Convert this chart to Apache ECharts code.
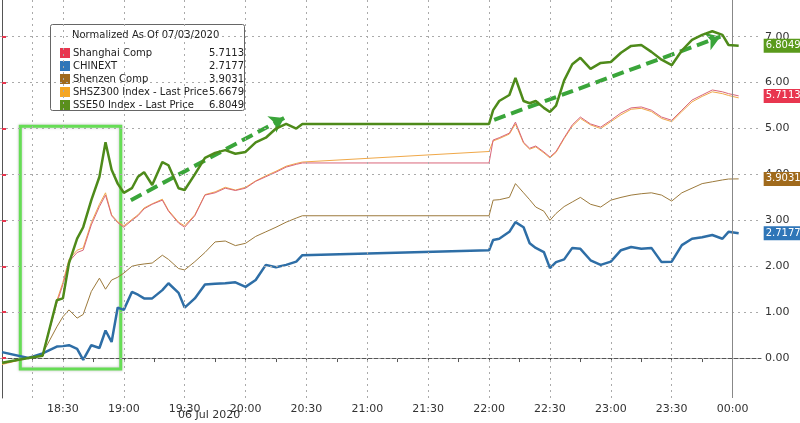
<!DOCTYPE html>
<html>
<head>
<meta charset="utf-8">
<script src="https://cdn.jsdelivr.net/npm/echarts@6/dist/echarts.min.js"></script>
<style>html,body{margin:0;padding:0;background:#fff}#chart{width:800px;height:423px}</style>
</head>
<body>
<div id="chart"></div>
<script>
// minutes after 18:00 on 06 Jul 2020
var times = [0,13,20,27,30,33,37,40,44,48,51,54,57,60,64,67,70,74,79,82,87,90,95,100,105,110,115,120,125,130,135,140,145,148,
  240,242,245,250,253,257,260,263,267,270,273,277,281,285,290,295,300,305,310,315,320,325,330,335,340,345,350,355,358,363];

var sse50 = [-0.1,0,0.05,1.26,1.3,2.07,2.6,2.85,3.44,3.95,4.7,4.1,3.8,3.6,3.7,3.95,4.05,3.77,4.27,4.2,3.7,3.66,4.0,4.36,4.47,4.53,4.45,4.49,4.7,4.8,5.0,5.1,5.0,5.1,
  5.1,5.4,5.6,5.73,6.1,5.6,5.55,5.6,5.45,5.36,5.5,6.05,6.4,6.54,6.3,6.43,6.45,6.65,6.8,6.82,6.67,6.5,6.38,6.7,6.93,7.04,7.12,7.04,6.82,6.8049];
var shanghai = [-0.12,0,0.05,1.2,1.6,2.1,2.3,2.35,2.9,3.3,3.55,3.1,2.95,2.85,3.0,3.1,3.25,3.35,3.44,3.2,2.94,2.85,3.1,3.55,3.6,3.7,3.65,3.7,3.85,3.95,4.05,4.16,4.22,4.25,
  4.25,4.75,4.8,4.9,5.14,4.7,4.57,4.62,4.49,4.38,4.5,4.8,5.08,5.25,5.1,5.03,5.18,5.34,5.45,5.47,5.4,5.25,5.18,5.4,5.62,5.73,5.84,5.8,5.76,5.7113];
var shsz300 = [-0.14,0,0.08,1.25,1.65,2.15,2.35,2.4,2.95,3.35,3.6,3.12,2.97,2.88,3.02,3.12,3.27,3.36,3.46,3.22,2.96,2.88,3.12,3.56,3.62,3.72,3.66,3.72,3.86,3.97,4.07,4.18,4.24,4.27,
  4.5,4.73,4.78,4.88,5.1,4.68,4.55,4.6,4.47,4.36,4.48,4.78,5.05,5.22,5.08,5.0,5.15,5.3,5.42,5.44,5.37,5.22,5.15,5.37,5.58,5.7,5.8,5.76,5.72,5.6679];
var shenzen = [-0.12,0,0.1,0.68,0.9,1.05,0.87,0.95,1.45,1.74,1.5,1.7,1.76,1.85,2.0,2.03,2.05,2.07,2.24,2.15,1.95,1.92,2.1,2.3,2.53,2.55,2.45,2.5,2.65,2.75,2.85,2.96,3.05,3.1,
  3.1,3.44,3.45,3.5,3.8,3.6,3.45,3.29,3.2,3.0,3.15,3.3,3.4,3.5,3.35,3.29,3.44,3.5,3.55,3.58,3.6,3.55,3.42,3.6,3.7,3.8,3.84,3.88,3.9,3.9031];
var chinext = [0.13,0,0.1,0.25,0.26,0.28,0.2,-0.04,0.28,0.22,0.6,0.35,1.1,1.05,1.44,1.38,1.3,1.3,1.48,1.63,1.42,1.1,1.3,1.6,1.62,1.63,1.65,1.55,1.7,2.03,1.98,2.03,2.1,2.24,
  2.35,2.57,2.6,2.75,2.96,2.85,2.5,2.4,2.31,1.96,2.09,2.15,2.4,2.38,2.13,2.03,2.1,2.35,2.42,2.38,2.4,2.09,2.1,2.46,2.6,2.63,2.68,2.6,2.75,2.7177];

var yTicks = [0,1,2,3,4,5,6,7];
var xTicks = [30,60,90,120,150,180,210,240,270,300,330,360];
var xMinor = [15,45,75,105,135,165,195,225,255,285,315,345];

function pairs(vals) {
    return times.map(function (t, i) { return [t, vals[i]]; });
}
function fmtTime(m) {
    var h = (18 + Math.floor(m / 60)) % 24, mm = m % 60;
    return (h < 10 ? '0' : '') + h + ':' + (mm < 10 ? '0' : '') + mm;
}

var chart = echarts.init(document.getElementById('chart'), null, { renderer: 'canvas' });
var font = 'DejaVu Sans';

function line(name, vals, color, width, tagColor, last, z) {
    return {
        name: name, type: 'line', data: pairs(vals), showSymbol: false, z: z,
        lineStyle: { color: color, width: width }, itemStyle: { color: color },
        endLabel: {
            show: tagColor != null, distance: 25, formatter: last,
            color: '#fff', backgroundColor: tagColor, padding: [2, 2], fontSize: 10, fontFamily: font
        }
    };
}

var series = [
    line('Shanghai Comp', shanghai, '#d9667a', 1, '#e8364f', '5.7113', 3),
    line('CHINEXT', chinext, '#2e6ea6', 2.5, '#2f76b8', '2.7177', 4),
    line('Shenzen Comp', shenzen, '#9c7a3c', 1, '#a06a1c', '3.9031', 3),
    line('SHSZ300 Index - Last Price', shsz300, '#f0a848', 1, null, '', 2),
    line('SSE50 Index - Last Price', sse50, '#4e8a1a', 2.5, '#5a9a1c', '6.8049', 5)
];
// annotations: green box and dashed arrows
series[4].markArea = {
    silent: true,
    itemStyle: { color: 'rgba(0,0,0,0)', borderColor: '#66dd55', borderWidth: 3, shadowColor: 'rgba(0,0,0,0.25)', shadowBlur: 3 },
    data: [[{ coord: [9, 5.05] }, { coord: [58.5, -0.24] }]]
};
series[4].markLine = {
    silent: true, symbol: ['none', 'arrow'], symbolSize: 14,
    lineStyle: { color: '#3aa53a', width: 4, type: [12, 6] }, label: { show: false },
    data: [[{ coord: [63.5, 3.44] }, { coord: [139, 5.23] }],
           [{ coord: [242.5, 5.19] }, { coord: [354, 7.0] }]]
};

var legendVals = { 'Shanghai Comp': '5.7113', 'CHINEXT': '2.7177', 'Shenzen Comp': '3.9031',
    'SHSZ300 Index - Last Price': '5.6679', 'SSE50 Index - Last Price': '6.8049' };
var legendColors = ['#e8364f', '#2f76b8', '#a06a1c', '#f5a623', '#5a8f1c'];

chart.setOption({
    backgroundColor: '#fff',
    animation: false,
    textStyle: { fontFamily: font },
    grid: { left: 0, right: 39, top: 0, bottom: 25 },
    xAxis: {
        type: 'value', min: -1, max: 374,
        axisLine: { lineStyle: { color: '#555' } },
        axisTick: { customValues: xTicks.concat(xMinor), length: 4, lineStyle: { color: '#555' } },
        axisLabel: { customValues: xTicks, formatter: fmtTime, color: '#333', fontSize: 11, margin: 6 },
        splitLine: { show: false }
    },
    yAxis: {
        type: 'value', position: 'right', min: -0.87, max: 7.8,
        axisLine: { show: true, lineStyle: { color: '#555' } },
        axisTick: { show: true, customValues: yTicks, length: 4, lineStyle: { color: '#e8364f', width: 2 } },
        axisLabel: { customValues: yTicks, formatter: function (v) { return v.toFixed(2); }, color: '#333', fontSize: 11, margin: 4 },
        splitLine: { show: false }
    },
    legend: {
        orient: 'vertical', left: 55, top: 43, itemWidth: 10, itemHeight: 10, itemGap: 3,
        icon: 'rect', selectedMode: false,
        data: series.map(function (s, i) {
            return { name: s.name, itemStyle: { color: legendColors[i] }, lineStyle: { width: 0, opacity: 0 } };
        }),
        textStyle: { fontSize: 10, color: '#222', padding: [0, 0, 0, -2],
            rich: { n: { width: 136, fontSize: 10 }, v: { fontSize: 10 } } },
        formatter: function (name) { return '{n|' + name + '}{v|' + legendVals[name] + '}'; }
    },
    graphic: [
        { type: 'rect', left: 50, top: 24, z: -1, shape: { width: 194, height: 86, r: 2 },
          style: { fill: '#fff', stroke: '#666', lineWidth: 1 } },
        { type: 'text', left: 72, top: 30, style: { text: 'Normalized As Of 07/03/2020', fontSize: 10, fill: '#222', fontFamily: font } },
        { type: 'text', left: 178, top: 410, style: { text: '06 Jul 2020', fontSize: 11, fill: '#333', fontFamily: font } }
    ],
    series: series.concat([{
        type: 'line', data: [], silent: true,
        markLine: {
            silent: true, symbol: 'none', label: { show: false },
            lineStyle: { color: '#aaa', type: [2, 4], width: 1 },
            data: yTicks.map(function (v) { return { yAxis: v }; })
                .concat(xTicks.map(function (v) { return { xAxis: v }; }))
                .concat([{ xAxis: 15 }])
        }
    }, {
        type: 'line', data: [], silent: true,
        markLine: { silent: true, symbol: 'none', label: { show: false },
            lineStyle: { color: '#888', type: 'solid', width: 1 }, data: [{ xAxis: 360 }] }
    }])
});
</script>
</body>
</html>
